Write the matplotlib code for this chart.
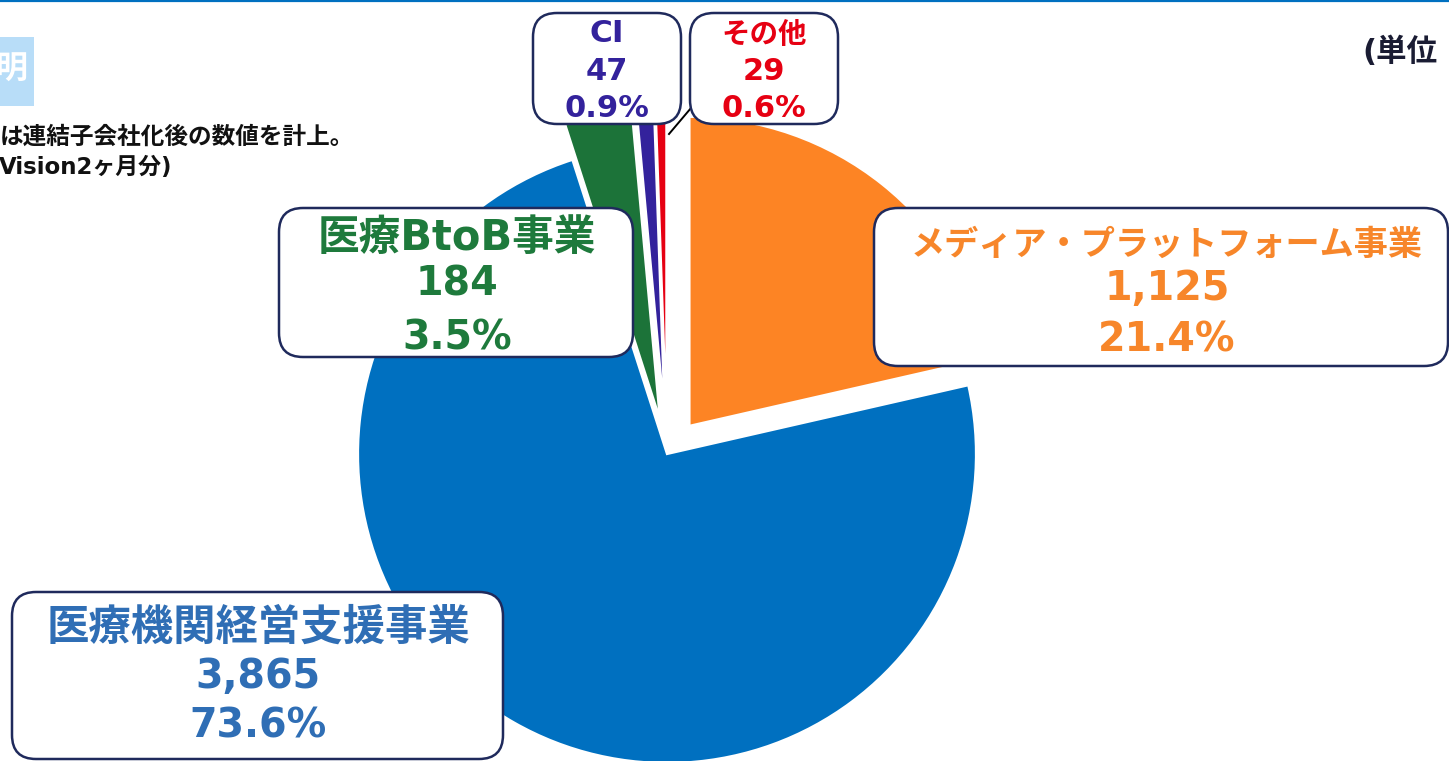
import matplotlib
matplotlib.use("Agg")
import matplotlib.pyplot as plt
from matplotlib.patches import FancyBboxPatch, Rectangle

# segment data (単位: 百万円)
segments = ["メディア・プラットフォーム事業", "医療機関経営支援事業", "医療BtoB事業", "CI", "その他"]
values = [1125, 3865, 184, 47, 29]
pie_colors = ["#FD8424", "#0070C0", "#1C7339", "#33229C", "#E60012"]
text_colors = ["#F7862A", "#2F6EB5", "#1E7A3C", "#33229C", "#E60012"]
explode = [36, 0, 36, 36, 36]

W, H = 1449, 761
def Y(y):
    return H - y

fig = plt.figure(figsize=(W / 100, H / 100), dpi=100)
ax = fig.add_axes([0, 0, 1, 1])

ax.pie(values, colors=pie_colors, startangle=90, counterclock=False,
       center=(667, Y(454)), radius=309, explode=explode,
       wedgeprops=dict(edgecolor="white", linewidth=1.6))
ax.set_xlim(0, W)
ax.set_ylim(0, H)
ax.set_aspect("equal")
ax.axis("off")

total = sum(values)
pcts = ["{:.1f}%".format(v / total * 100) for v in values]

cjk = ["DejaVu Sans", "Noto Sans CJK JP"]
edge = "#1F2A5C"

# label boxes: x0, x1, y0, y1, text centre x, baselines, name size, number size
boxes = [
    (874, 1448, 208, 366, 1167, (255, 300, 352), 24.6, 28.5),
    (12, 503, 592, 759, 258, (640, 688, 738), 30.5, 28.5),
    (279, 633, 208, 357, 457, (250, 295, 350), 30, 28.5),
    (533, 681, 13, 124, 607, (42, 80, 117), 22.5, 22),
    (690, 838, 13, 124, 764, (43, 80, 117), 20.5, 22),
]

for i, (x0, x1, y0, y1, cx, bl, s1, s2) in enumerate(boxes):
    ax.add_patch(FancyBboxPatch((x0, Y(y1)), x1 - x0, y1 - y0,
                                boxstyle="round,pad=0,rounding_size=24",
                                fc="white", ec=edge, lw=1.8, zorder=3))
    c = text_colors[i]
    ax.text(cx, Y(bl[0]), segments[i], ha="center", va="baseline", color=c,
            fontsize=s1, fontweight="bold", family=cjk, zorder=4)
    ax.text(cx, Y(bl[1]), "{:,}".format(values[i]), ha="center", va="baseline",
            color=c, fontsize=s2, fontweight="bold", family=cjk, zorder=4)
    ax.text(cx, Y(bl[2]), pcts[i], ha="center", va="baseline", color=c,
            fontsize=s2, fontweight="bold", family=cjk, zorder=4)

# leader line for その他
ax.plot([669, 691], [Y(134), Y(108)], color="black", lw=1.4, zorder=2)

# slide decorations
ax.plot([0, W], [Y(1), Y(1)], color="#0070C0", lw=1.6, zorder=5)
ax.add_patch(Rectangle((0, Y(106)), 34, 69, fc="#B8DDF8", ec="none", zorder=1))
ax.text(28, Y(70), "明", ha="right", va="center", color="white", fontsize=23,
        fontweight="bold", family=cjk, zorder=2)
ax.text(0, Y(144), "は連結子会社化後の数値を計上。", ha="left", va="baseline",
        color="#111111", fontsize=17, fontweight="bold", family=cjk)
ax.text(-1, Y(174), "Vision2ヶ月分)", ha="left", va="baseline",
        color="#111111", fontsize=16.5, fontweight="bold", family=cjk)
ax.text(1362, Y(61), "(単位", ha="left", va="baseline", color="#1A1C33",
        fontsize=22, fontweight="bold", family=cjk)

fig.savefig("out.png", dpi=100)
